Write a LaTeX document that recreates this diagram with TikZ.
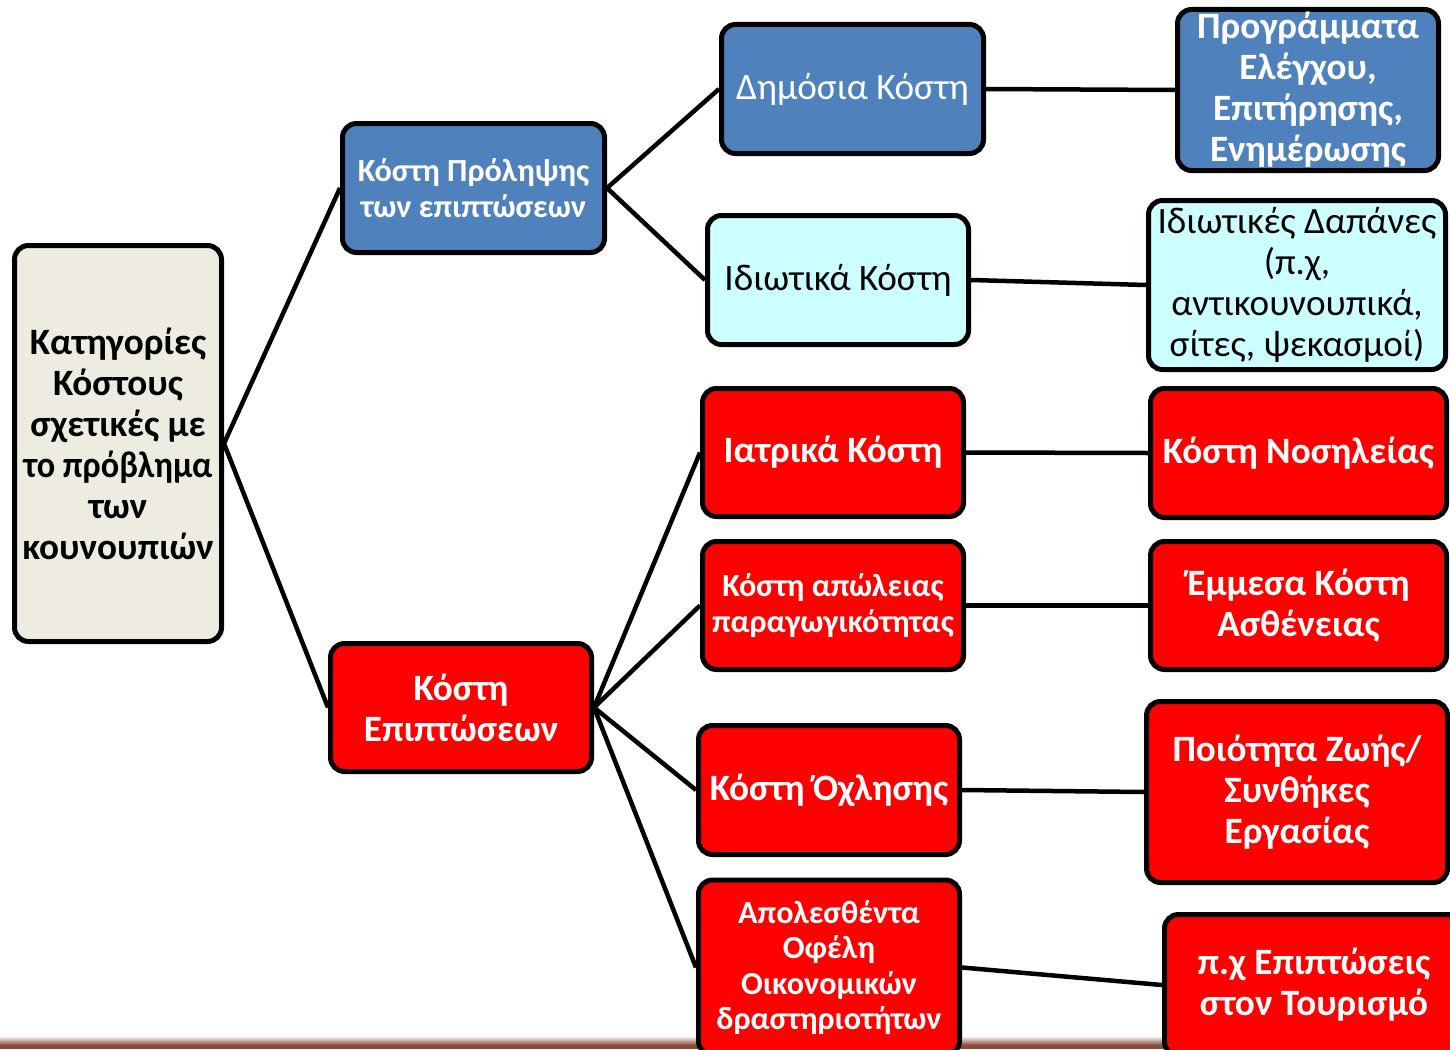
\documentclass[tikz,border=0pt]{standalone}
\usepackage{fontspec}
\usepackage{graphicx}
\setmainfont{Carlito}
\definecolor{blu}{HTML}{4F81BD}
\definecolor{rd}{HTML}{FF0000}
\definecolor{cy}{HTML}{CCFFFF}
\definecolor{bg}{HTML}{EEECE1}
\definecolor{brn}{HTML}{8E4B3C}
\tikzset{
  box/.style={draw=black, line width=5pt, rounded corners=14pt, align=center, inner sep=1pt, anchor=center},
  bluebox/.style={box, fill=blu, text=white},
  redbox/.style={box, fill=rd, text=white},
  cybox/.style={box, fill=cy, text=black},
  rootbox/.style={box, fill=bg, text=black},
  big/.style={font=\fontsize{37.2}{41}\selectfont},
  bigb/.style={font=\fontsize{37.2}{41}\selectfont\bfseries},
  midb/.style={font=\fontsize{32.2}{35.5}\selectfont\bfseries},
  conn/.style={line width=4.5pt, black}
}
\begin{document}
\begin{tikzpicture}[x=1pt,y=-1pt]
\useasboundingbox (0,0) rectangle (1450,1049);
\shade[top color=white, bottom color=brn] (0,1036) rectangle (1450,1045);
\fill[brn] (0,1045) rectangle (1450,1049);
\node[rootbox, bigb, minimum width=207, minimum height=396] (root) at (118,443.5) {Κατηγορίες\\Κόστους\\σχετικές με\\\scalebox{0.92}[1]{το πρόβλημα}\\των\\κουνουπιών};
\node[bluebox, midb, minimum width=262, minimum height=129] (prev) at (473.5,188) {Κόστη Πρόληψης\\των επιπτώσεων};
\node[redbox, bigb, minimum width=261, minimum height=128] (epi) at (461,707.5) {Κόστη\\Επιπτώσεων};
\node[bluebox, big, minimum width=262, minimum height=129] (dim) at (852.5,89) {Δημόσια Κόστη};
\node[cybox, big, minimum width=261, minimum height=129] (idi) at (838,280) {Ιδιωτικά Κόστη};
\node[redbox, bigb, minimum width=261, minimum height=128] (iat) at (833,452.5) {Ιατρικά Κόστη};
\node[redbox, midb, minimum width=261, minimum height=128] (apo) at (833,605.5) {Κόστη απώλειας\\παραγωγικότητας};
\node[redbox, bigb, minimum width=261, minimum height=129] (och) at (829,790) {Κόστη Όχλησης};
\node[redbox, midb, minimum width=261, minimum height=175] (apol) at (829,967.5) {Απολεσθέντα\\Οφέλη\\Οικονομικών\\δραστηριοτήτων};
\node[bluebox, bigb, minimum width=261, minimum height=161] (prog) at (1308,90) {Προγράμματα\\Ελέγχου,\\Επιτήρησης,\\Ενημέρωσης};
\node[cybox, big, minimum width=297, minimum height=169] (idd) at (1297,285) {Ιδιωτικές Δαπάνες\\(π.χ,\\αντικουνουπικά,\\σίτες, ψεκασμοί)};
\node[redbox, bigb, minimum width=296, minimum height=129] (nos) at (1298.5,453) {Κόστη Νοσηλείας};
\node[redbox, bigb, minimum width=296, minimum height=128] (emm) at (1298.5,605.5) {Έμμεσα Κόστη\\Ασθένειας};
\node[redbox, bigb, minimum width=301, minimum height=181] (poi) at (1297,792) {Ποιότητα Ζωής/\\Συνθήκες\\Εργασίας};
\node[redbox, bigb, minimum width=299, minimum height=141] (tour) at (1314,985) {π.χ Επιπτώσεις\\στον Τουρισμό};
\draw[conn] (root.east) -- (prev.west);
\draw[conn] (root.east) -- (epi.west);
\draw[conn] (prev.east) -- (dim.west);
\draw[conn] (prev.east) -- (idi.west);
\draw[conn] (epi.east) -- (iat.west);
\draw[conn] (epi.east) -- (apo.west);
\draw[conn] (epi.east) -- (och.west);
\draw[conn] (epi.east) -- (apol.west);
\draw[conn] (dim.east) -- (prog.west);
\draw[conn] (idi.east) -- (idd.west);
\draw[conn] (iat.east) -- (nos.west);
\draw[conn] (apo.east) -- (emm.west);
\draw[conn] (och.east) -- (poi.west);
\draw[conn] (apol.east) -- (tour.west);
\end{tikzpicture}
\end{document}
